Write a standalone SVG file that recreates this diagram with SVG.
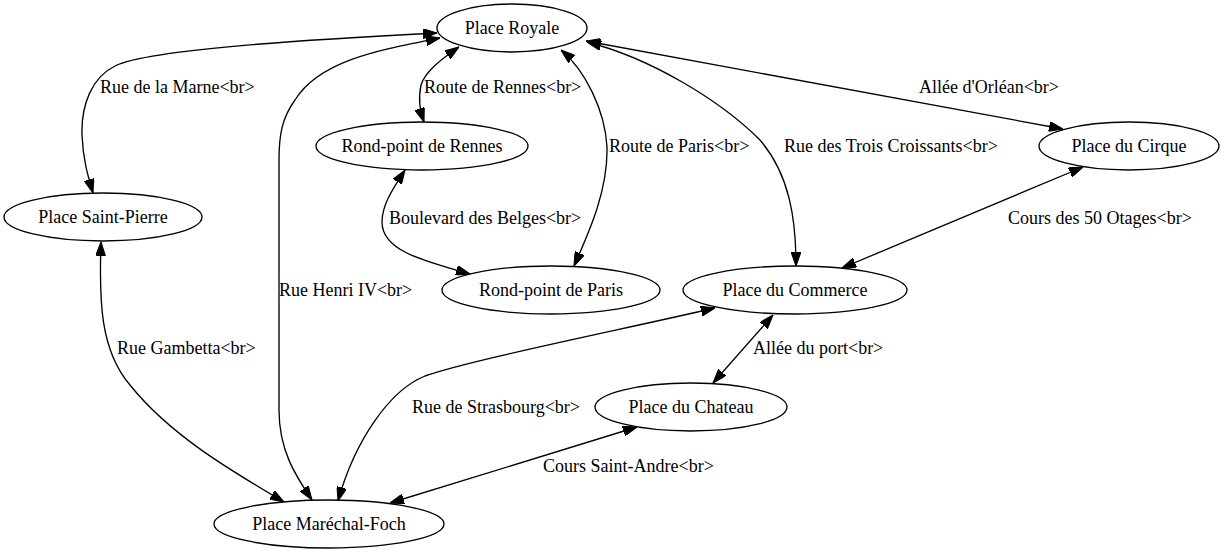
<svg xmlns="http://www.w3.org/2000/svg" width="1224" height="555" viewBox="0 0 1224 555">
<style>
.n ellipse{fill:#fff;stroke:#000;stroke-width:1.33}
.n text{font-family:"Liberation Serif","Times New Roman",serif;font-size:18px;text-anchor:middle;fill:#000}
#edges path{fill:none;stroke:#000;stroke-width:1.33;marker-start:url(#ah);marker-end:url(#ah)}
#edges text{font-family:"Liberation Serif","Times New Roman",serif;font-size:18px;fill:#000}
</style>
<defs>
<marker id="ah" markerUnits="userSpaceOnUse" markerWidth="14" markerHeight="10" viewBox="0 0 13.3 9.4" refX="13.3" refY="4.7" orient="auto-start-reverse">
<path d="M0,0 L13.3,4.7 L0,9.4 z" fill="#000" stroke="#000" stroke-width="1"/>
</marker>
</defs>
<rect width="1224" height="555" fill="#fff"/>
<g id="edges">
<path d="M437,33 C340,38 150,48 115,66 C92,77 81,105 82,135 C83,160 88,176 93,193"/>
<text x="100" y="93">Rue de la Marne&lt;br&gt;</text>
<path d="M440,38 C380,50 320,60 295,100 C282,118 279,135 279,160 L279,410 C279,450 295,475 312,500"/>
<text x="279" y="296">Rue Henri IV&lt;br&gt;</text>
<path d="M459,47 C440,60 425,72 421,85 C418,100 420,110 424,122"/>
<text x="424" y="93">Route de Rennes&lt;br&gt;</text>
<path d="M561,50 C585,70 605,110 607,147 C608,190 590,230 574,266"/>
<text x="609" y="152">Route de Paris&lt;br&gt;</text>
<path d="M587,42 C650,58 720,100 760,140 C790,175 796,220 796,266"/>
<text x="784" y="152">Rue des Trois Croissants&lt;br&gt;</text>
<path d="M586,41 L1063,129"/>
<text x="919" y="93">Allée d'Orléan&lt;br&gt;</text>
<path d="M1083,167 L842,268"/>
<text x="1008" y="224">Cours des 50 Otages&lt;br&gt;</text>
<path d="M405,170 C392,190 382,205 382,222 C382,250 420,260 470,274"/>
<text x="389" y="224">Boulevard des Belges&lt;br&gt;</text>
<path d="M101,242 C99,300 100,350 130,385 C170,435 230,470 284,502"/>
<text x="117" y="354">Rue Gambetta&lt;br&gt;</text>
<path d="M715,308 C620,330 470,360 425,376 C390,390 355,440 338,501"/>
<text x="412" y="413">Rue de Strasbourg&lt;br&gt;</text>
<path d="M773,315 L713,383"/>
<text x="753" y="354">Allée du port&lt;br&gt;</text>
<path d="M637,427 L390,503"/>
<text x="543" y="472">Cours Saint-Andre&lt;br&gt;</text>
</g>
<g id="n-royale" class="n"><ellipse cx="512" cy="28" rx="75" ry="24"/><text x="512" y="34">Place Royale</text></g>
<g id="n-rp-rennes" class="n"><ellipse cx="422" cy="146" rx="106" ry="24"/><text x="422" y="152">Rond-point de Rennes</text></g>
<g id="n-saint-pierre" class="n"><ellipse cx="103" cy="217" rx="99" ry="24"/><text x="103" y="223">Place Saint-Pierre</text></g>
<g id="n-rp-paris" class="n"><ellipse cx="551" cy="290" rx="109" ry="24"/><text x="551" y="296">Rond-point de Paris</text></g>
<g id="n-commerce" class="n"><ellipse cx="795" cy="290" rx="112" ry="24"/><text x="795" y="296">Place du Commerce</text></g>
<g id="n-cirque" class="n"><ellipse cx="1129" cy="146" rx="90" ry="24"/><text x="1129" y="152">Place du Cirque</text></g>
<g id="n-chateau" class="n"><ellipse cx="691" cy="407" rx="96" ry="24"/><text x="691" y="413">Place du Chateau</text></g>
<g id="n-foch" class="n"><ellipse cx="329" cy="524" rx="115" ry="24"/><text x="329" y="530">Place Maréchal-Foch</text></g>
</svg>
